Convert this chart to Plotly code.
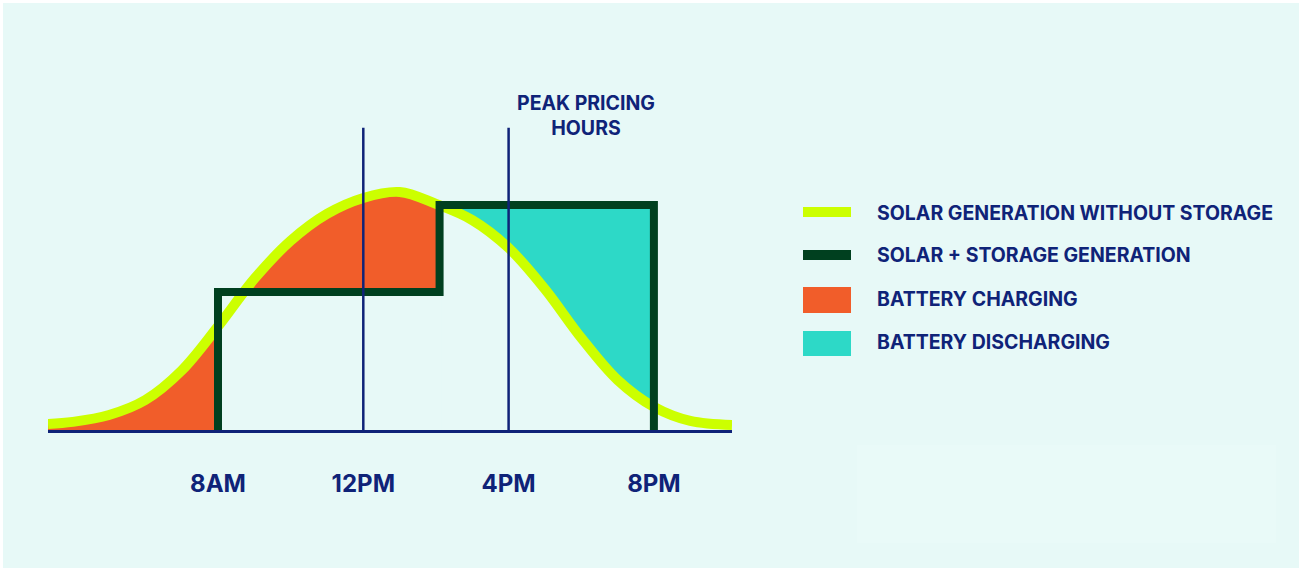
import plotly.graph_objects as go

# ---------------- data ----------------
hours = [3.32, 4, 5, 6, 7, 8, 9, 10, 11, 12, 13, 14, 15, 16, 17, 18, 19, 20, 21, 22.15]
solar = [2.5, 3.4, 6.3, 12.6, 25.0, 43.5, 63.5, 79.5, 90.8, 97.5, 100.0, 95.0, 88.2, 76.5, 59.2, 38.7, 21.0, 9.7, 3.8, 2.1]

step_times = [8.0, 14.1, 20.0]      # storage dispatch steps (hours)
step_levels = [58.0, 94.5]         # storage output levels (% of solar peak)

peak_hours = [12, 16]
peak_line_top = 127

tick_vals = [8, 12, 16, 20]
tick_text = ["8AM", "12PM", "4PM", "8PM"]

legend_labels = ["SOLAR GENERATION WITHOUT STORAGE", "SOLAR + STORAGE GENERATION",
                 "BATTERY CHARGING", "BATTERY DISCHARGING"]

# ---------------- styles ----------------
BG = "#E7F9F7"
YELLOW = "#CCFF00"
GREEN = "#00401F"
ORANGE = "#F15D2A"
TEAL = "#2DD9C7"
NAVY = "#0F2378"
FONT = "Inter"

W, H = 1302, 571
L, R, T, B = 48, 570, 60, 141
PW, PH = W - L - R, H - T - B
XR = [3.32, 22.15]
PX_PER_UNIT = 2.38
YR = [0, PH / PX_PER_UNIT]


def px2x(px):
    return (px - L) / PW


def py2y(py):
    return (H - B - py) / PH


s1, s2, s3 = step_times
low, high = step_levels

fig = go.Figure()

# orange: under solar up to second step
ox = [h for h in hours if h <= 14] + [s2]
oy = [v for h, v in zip(hours, solar) if h <= 14] + [high]
fig.add_trace(go.Scatter(x=ox, y=oy, mode="lines", line=dict(width=0, shape="spline", color=ORANGE),
                         fill="tozeroy", fillcolor=ORANGE, hoverinfo="skip", showlegend=False))
# teal: storage high block
fig.add_trace(go.Scatter(x=[s2, s2, s3, s3], y=[0, high, high, 0], mode="lines",
                         line=dict(width=0, color=TEAL), fill="toself", fillcolor=TEAL,
                         hoverinfo="skip", showlegend=False))
# cover under solar after second step
cx = [s2] + [h for h in hours if h >= 15]
cy = [high] + [v for h, v in zip(hours, solar) if h >= 15]
fig.add_trace(go.Scatter(x=cx, y=cy, mode="lines", line=dict(width=0, shape="spline", color=BG),
                         fill="tozeroy", fillcolor=BG, hoverinfo="skip", showlegend=False))
# cover storage low block
fig.add_trace(go.Scatter(x=[s1, s1, s2, s2], y=[0, low, low, 0], mode="lines",
                         line=dict(width=3, color=BG), fill="toself", fillcolor=BG,
                         hoverinfo="skip", showlegend=False))
# solar line
fig.add_trace(go.Scatter(x=hours, y=solar, mode="lines", line=dict(width=10, shape="spline", color=YELLOW),
                         hoverinfo="skip", showlegend=False))
# storage line
fig.add_trace(go.Scatter(x=[s1, s1, s2, s2, s3, s3], y=[0, low, low, high, high, 0], mode="lines",
                         line=dict(width=8, color=GREEN), hoverinfo="skip", showlegend=False))
# peak pricing lines
px_, py_ = [], []
for h in peak_hours:
    px_ += [h, h, None]
    py_ += [0, peak_line_top, None]
fig.add_trace(go.Scatter(x=px_, y=py_, mode="lines", line=dict(width=2.5, color=NAVY),
                         hoverinfo="skip", showlegend=False))

shapes = [
    dict(type="rect", xref="paper", yref="paper", x0=px2x(3), x1=px2x(1299), y0=py2y(568), y1=py2y(3),
         fillcolor=BG, line=dict(width=0), layer="below"),
    dict(type="rect", xref="paper", yref="paper", x0=px2x(857), x1=px2x(1276), y0=py2y(543), y1=py2y(445),
         fillcolor="#E9FAF8", line=dict(width=0), layer="below"),
    dict(type="line", xref="paper", yref="paper", x0=px2x(803), x1=px2x(851), y0=py2y(212), y1=py2y(212),
         line=dict(color=YELLOW, width=10)),
    dict(type="line", xref="paper", yref="paper", x0=px2x(803), x1=px2x(851), y0=py2y(255), y1=py2y(255),
         line=dict(color=GREEN, width=10)),
    dict(type="rect", xref="paper", yref="paper", x0=px2x(803), x1=px2x(851), y0=py2y(313), y1=py2y(287),
         fillcolor=ORANGE, line=dict(width=0)),
    dict(type="rect", xref="paper", yref="paper", x0=px2x(803), x1=px2x(851), y0=py2y(356), y1=py2y(331),
         fillcolor=TEAL, line=dict(width=0)),
]

annotations = []
for lab, py in zip(legend_labels, [213, 255, 299, 342]):
    annotations.append(dict(text=lab, xref="paper", yref="paper", x=px2x(875), y=py2y(py),
                            xanchor="left", yanchor="middle", showarrow=False,
                            font=dict(family=FONT, size=19.5, color=NAVY, weight=700)))
annotations.append(dict(text="PEAK PRICING<br>HOURS", x=18.13, y=(H - B - 115) / PX_PER_UNIT,
                        xref="x", yref="y", xanchor="center", yanchor="middle", showarrow=False,
                        font=dict(family=FONT, size=19.5, color=NAVY, weight=700)))

fig.update_layout(
    width=W, height=H,
    margin=dict(l=L, r=R, t=T, b=B),
    paper_bgcolor="white", plot_bgcolor="rgba(0,0,0,0)",
    shapes=shapes, annotations=annotations,
    xaxis=dict(range=XR, showgrid=False, zeroline=False, showline=True, linecolor=NAVY, linewidth=3,
               tickvals=tick_vals, ticktext=tick_text, ticks="", ticklabelstandoff=30,
               tickfont=dict(family=FONT, size=24, color=NAVY, weight=700)),
    yaxis=dict(range=YR, showgrid=False, zeroline=False, showline=False, showticklabels=False, ticks=""),
)

fig.write_html("out.html", config={"displayModeBar": False},
               post_script="document.body.style.margin='0px';")
